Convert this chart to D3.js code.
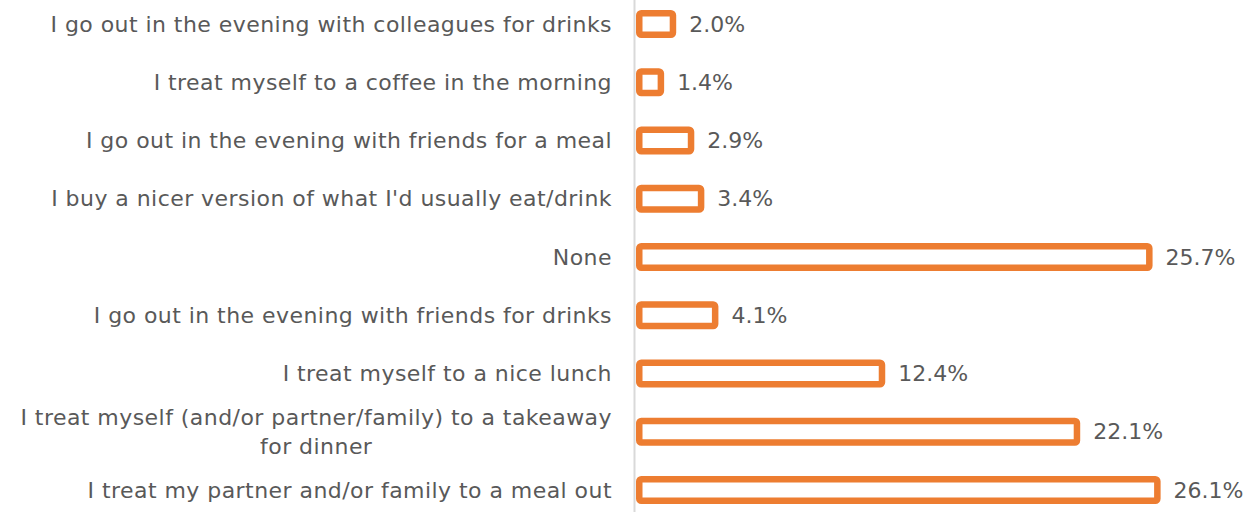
<!DOCTYPE html>
<html>
<head>
<meta charset="utf-8">
<script src="https://cdn.jsdelivr.net/npm/d3@7"></script>
<style>
  html, body { margin: 0; padding: 0; background: #ffffff; }
  svg { display: block; }
  text { font-family: "DejaVu Sans", sans-serif; fill: #595959; }
</style>
</head>
<body>
<svg id="chart" width="1256" height="512"></svg>
<script>
// Survey answers, top to bottom as listed
const categories = [
  "I go out in the evening with colleagues for drinks",
  "I treat myself to a coffee in the morning",
  "I go out in the evening with friends for a meal",
  "I buy a nicer version of what I'd usually eat/drink",
  "None",
  "I go out in the evening with friends for drinks",
  "I treat myself to a nice lunch",
  "I treat myself (and/or partner/family) to a takeaway\nfor dinner",
  "I treat my partner and/or family to a meal out"
];
const values = [2.0, 1.4, 2.9, 3.4, 25.7, 4.1, 12.4, 22.1, 26.1];
const valueLabels = ["2.0%", "1.4%", "2.9%", "3.4%", "25.7%", "4.1%", "12.4%", "22.1%", "26.1%"];

const svg = d3.select("#chart");
const orange = "#ED7D31";
const stroke = 6.5;
const fontSize = 22;
const tracking = "0.45px";

const x = d3.scaleLinear().domain([0, 30]).range([636, 636 + 30 * 20.1]);
const y = d3.scaleBand()
  .domain(categories)
  .range([-5.1, 519.1])
  .paddingInner(0.52)
  .paddingOuter(0.26);

// vertical baseline
svg.append("line")
  .attr("x1", 634.5).attr("x2", 634.5)
  .attr("y1", 0).attr("y2", 512)
  .attr("stroke", "#d9d9d9")
  .attr("stroke-width", 2);

// hollow bars
svg.selectAll("rect.bar")
  .data(categories)
  .join("rect")
  .attr("class", "bar")
  .attr("x", x(0) + stroke / 2)
  .attr("y", d => y(d) + stroke / 2)
  .attr("width", (d, i) => x(values[i]) - x(0) - stroke)
  .attr("height", y.bandwidth() - stroke)
  .attr("rx", 2)
  .attr("fill", "#ffffff")
  .attr("stroke", orange)
  .attr("stroke-width", stroke);

// value labels
svg.selectAll("text.value")
  .data(categories)
  .join("text")
  .attr("class", "value")
  .attr("x", (d, i) => x(values[i]) + 13)
  .attr("y", d => y(d) + y.bandwidth() / 2)
  .attr("dy", "0.35em")
  .style("font-size", fontSize + "px")
  .text((d, i) => valueLabels[i]);

// category labels, multi-line ones centred as a block that ends at the axis
const labelRight = 612;
const lineGap = 29;
categories.forEach(c => {
  const lines = c.split("\n");
  const cy = y(c) + y.bandwidth() / 2;
  const g = svg.append("text")
    .style("font-size", fontSize + "px")
    .style("letter-spacing", tracking);
  if (lines.length === 1) {
    g.attr("x", labelRight).attr("y", cy).attr("dy", "0.35em")
      .attr("text-anchor", "end").text(c);
  } else {
    const tmp = svg.append("text")
      .style("font-size", fontSize + "px")
      .style("letter-spacing", tracking)
      .text(lines[0]);
    const w = tmp.node().getComputedTextLength();
    tmp.remove();
    const cx = labelRight - w / 2;
    const top = cy - (lines.length - 1) * lineGap / 2;
    g.attr("text-anchor", "middle");
    lines.forEach((ln, k) => {
      g.append("tspan")
        .attr("x", cx)
        .attr("y", top + k * lineGap)
        .attr("dy", "0.35em")
        .text(ln);
    });
  }
});
</script>
</body>
</html>
